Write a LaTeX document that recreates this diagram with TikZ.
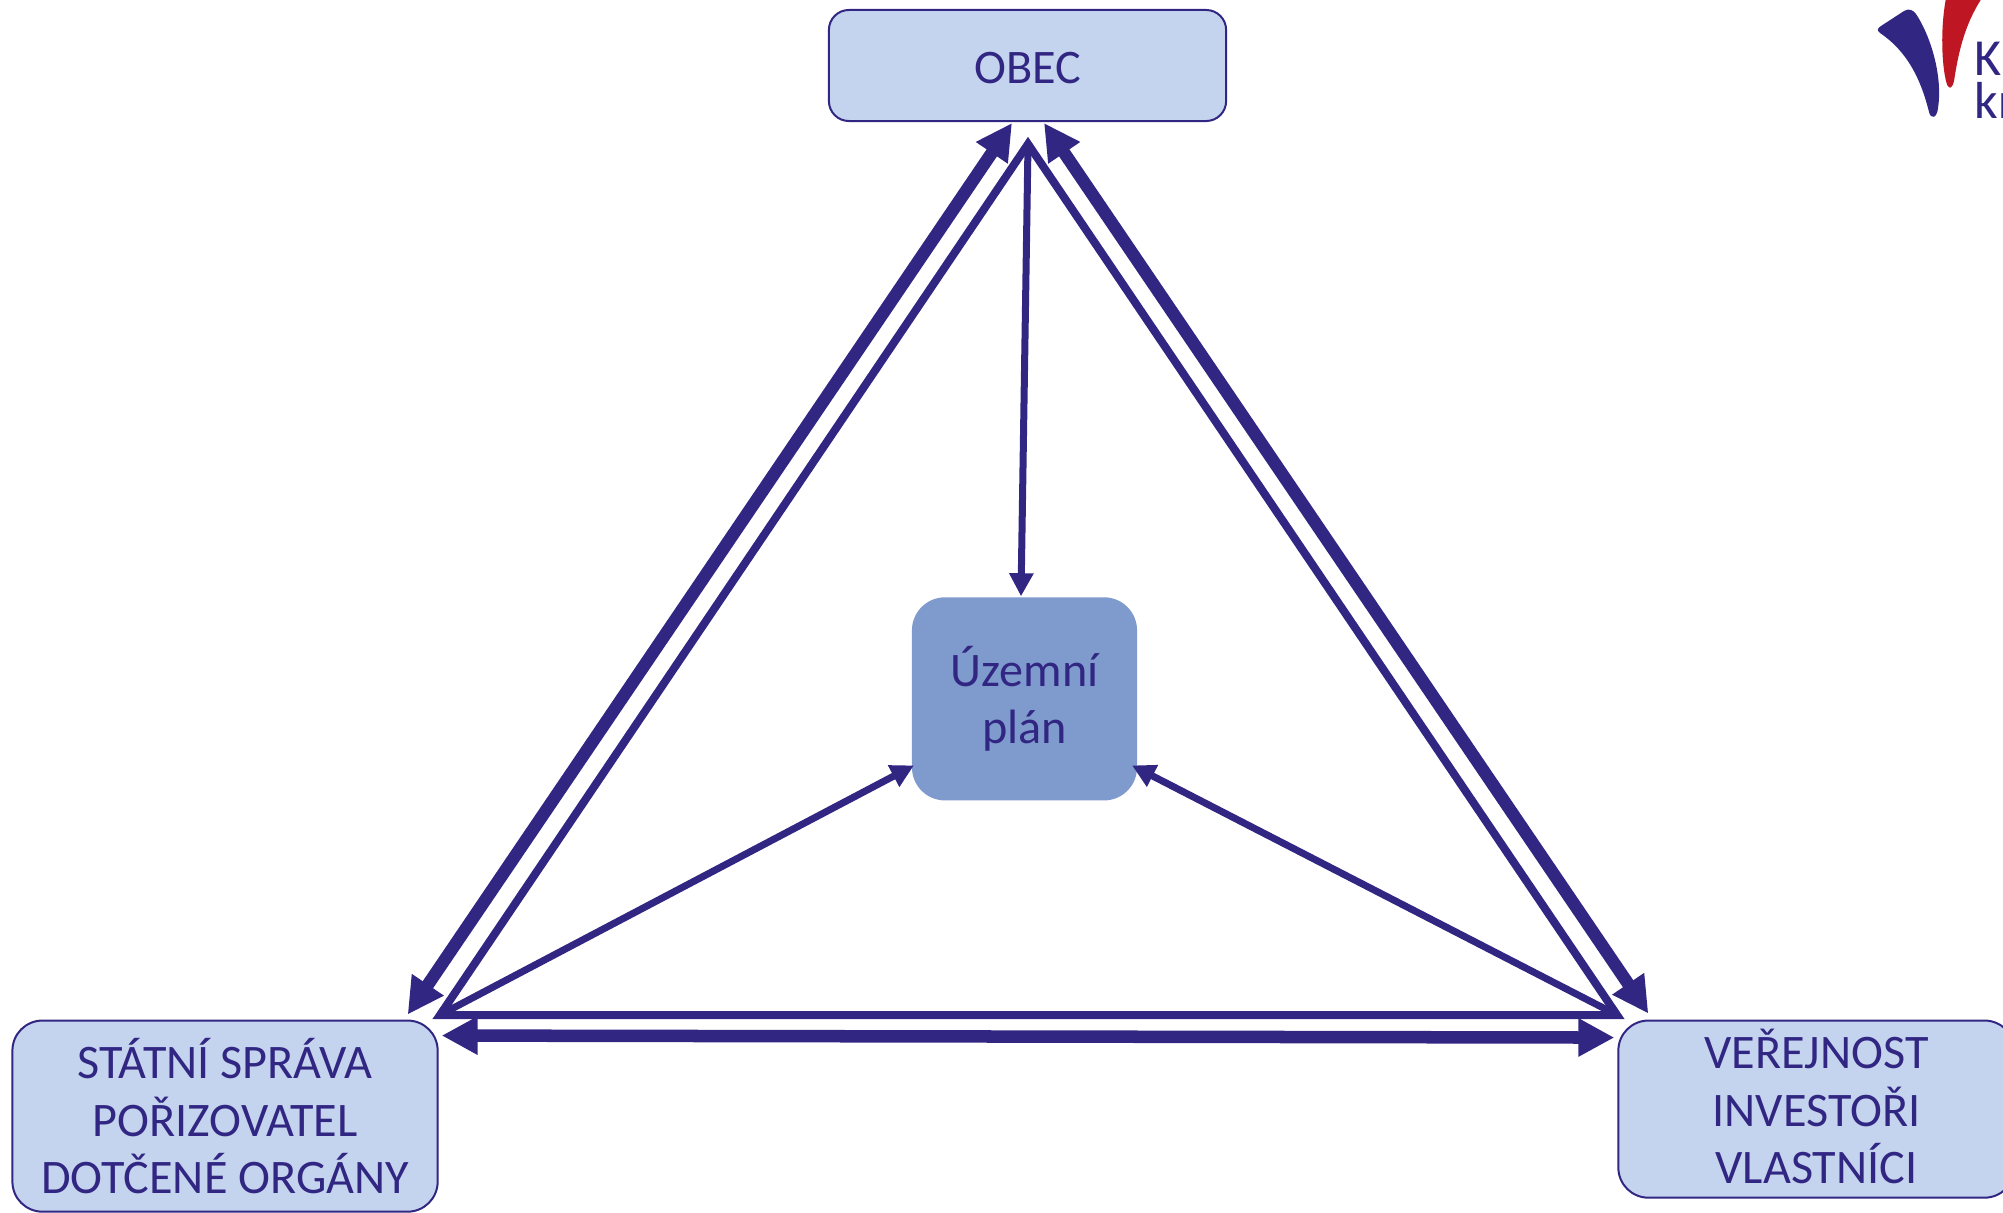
\documentclass[tikz,border=0pt]{standalone}
\usepackage{fontspec}
\setmainfont{Carlito}
\usetikzlibrary{positioning, arrows.meta}
\definecolor{uptext}{HTML}{312783}
\definecolor{upfill}{HTML}{C5D4EE}
\definecolor{upplan}{HTML}{7F9ACC}
\definecolor{upred}{HTML}{BE1622}
\tikzset{
  box/.style={draw=uptext, fill=upfill, line width=0.02cm, rounded corners=0.3cm, outer sep=0pt, inner sep=0pt, align=center, text=uptext, font=\fontsize{13.7pt}{16.36pt}\selectfont},
  planbox/.style={box, draw=none, fill=upplan, rounded corners=0.33cm},
  tri/.style={draw=uptext, line width=0.08cm, miter limit=10},
  bigarrow/.style={draw=uptext, line width=0.125cm, {Triangle[length=0.36cm,width=0.36cm]}-{Triangle[length=0.36cm,width=0.36cm]}},
  smallarrow/.style={draw=uptext, line width=0.07cm, -{Triangle[length=0.23cm,width=0.23cm]}},
  logotext/.style={text=uptext, inner sep=0pt, font=\fontsize{14.8pt}{17pt}\selectfont}
}
\begin{document}
\begin{tikzpicture}[x=0.01cm, y=-0.01cm]
\useasboundingbox (0,0) rectangle (2003,1212);
\clip (0,0) rectangle (2003,1212);
\node[box, rounded corners=0.2cm, minimum width=3.97cm, minimum height=1.11cm, text height=0.36cm] (obec) at (1027.5,65.5) {OBEC};
\node[planbox, minimum width=2.25cm, minimum height=2.03cm, below=4.76cm of obec, xshift=-0.03cm] (plan) {Územní\\plán};
\node[box, minimum width=4.25cm, minimum height=1.91cm, below left=2.2cm and 4.74cm of plan] (stat) {STÁTNÍ SPRÁVA\\POŘIZOVATEL\\DOTČENÉ ORGÁNY};
\node[box, minimum width=3.96cm, minimum height=1.77cm, text depth=0.05cm, below right=2.2cm and 4.81cm of plan] (verej) {VEŘEJNOST\\INVESTOŘI\\VLASTNÍCI};
\coordinate (apextop) at (1028,144);
\coordinate (apexleft) at (440,1015);
\coordinate (apexright) at (1617,1015);
\draw[tri] (apextop) -- (apexleft) -- (apexright) -- cycle;
\draw ([shift={(-15.5,2)}]obec.south) edge[bigarrow] ([shift={(-30,-6)}]stat.north east)
([shift={(16.5,2)}]obec.south) edge[bigarrow] ([shift={(30,-7)}]verej.north west)
([shift={(4,15)}]stat.north east) edge[bigarrow] ([shift={(-4,17)}]verej.north west)
(apextop) edge[smallarrow] ([shift={(-3.5,-1)}]plan.north)
(apexleft) edge[smallarrow] ([shift={(2,-35)}]plan.south west)
(apexright) edge[smallarrow] ([shift={(-5,-35)}]plan.south east)
;
\fill[uptext] (1880,33) .. controls (1876,30) and (1878,28) .. (1881,26) -- (1904,11) .. controls (1909,8) and (1913,10) .. (1916,14) .. controls (1930,35) and (1943,75) .. (1938,108) .. controls (1937,118) and (1931,120) .. (1929,112) .. controls (1921,80) and (1908,52) .. (1880,33) -- cycle;
\fill[upred] (1946,-2) .. controls (1940,30) and (1942,65) .. (1946,81) .. controls (1948,90) and (1952,90) .. (1954,81) .. controls (1958,55) and (1964,25) .. (1982,-2) -- cycle;
\node[logotext, anchor=base west] (logoa) at (1974,75) {K};
\node[logotext, anchor=base west] (logob) at (1974,118) {kr};
\end{tikzpicture}
\end{document}
